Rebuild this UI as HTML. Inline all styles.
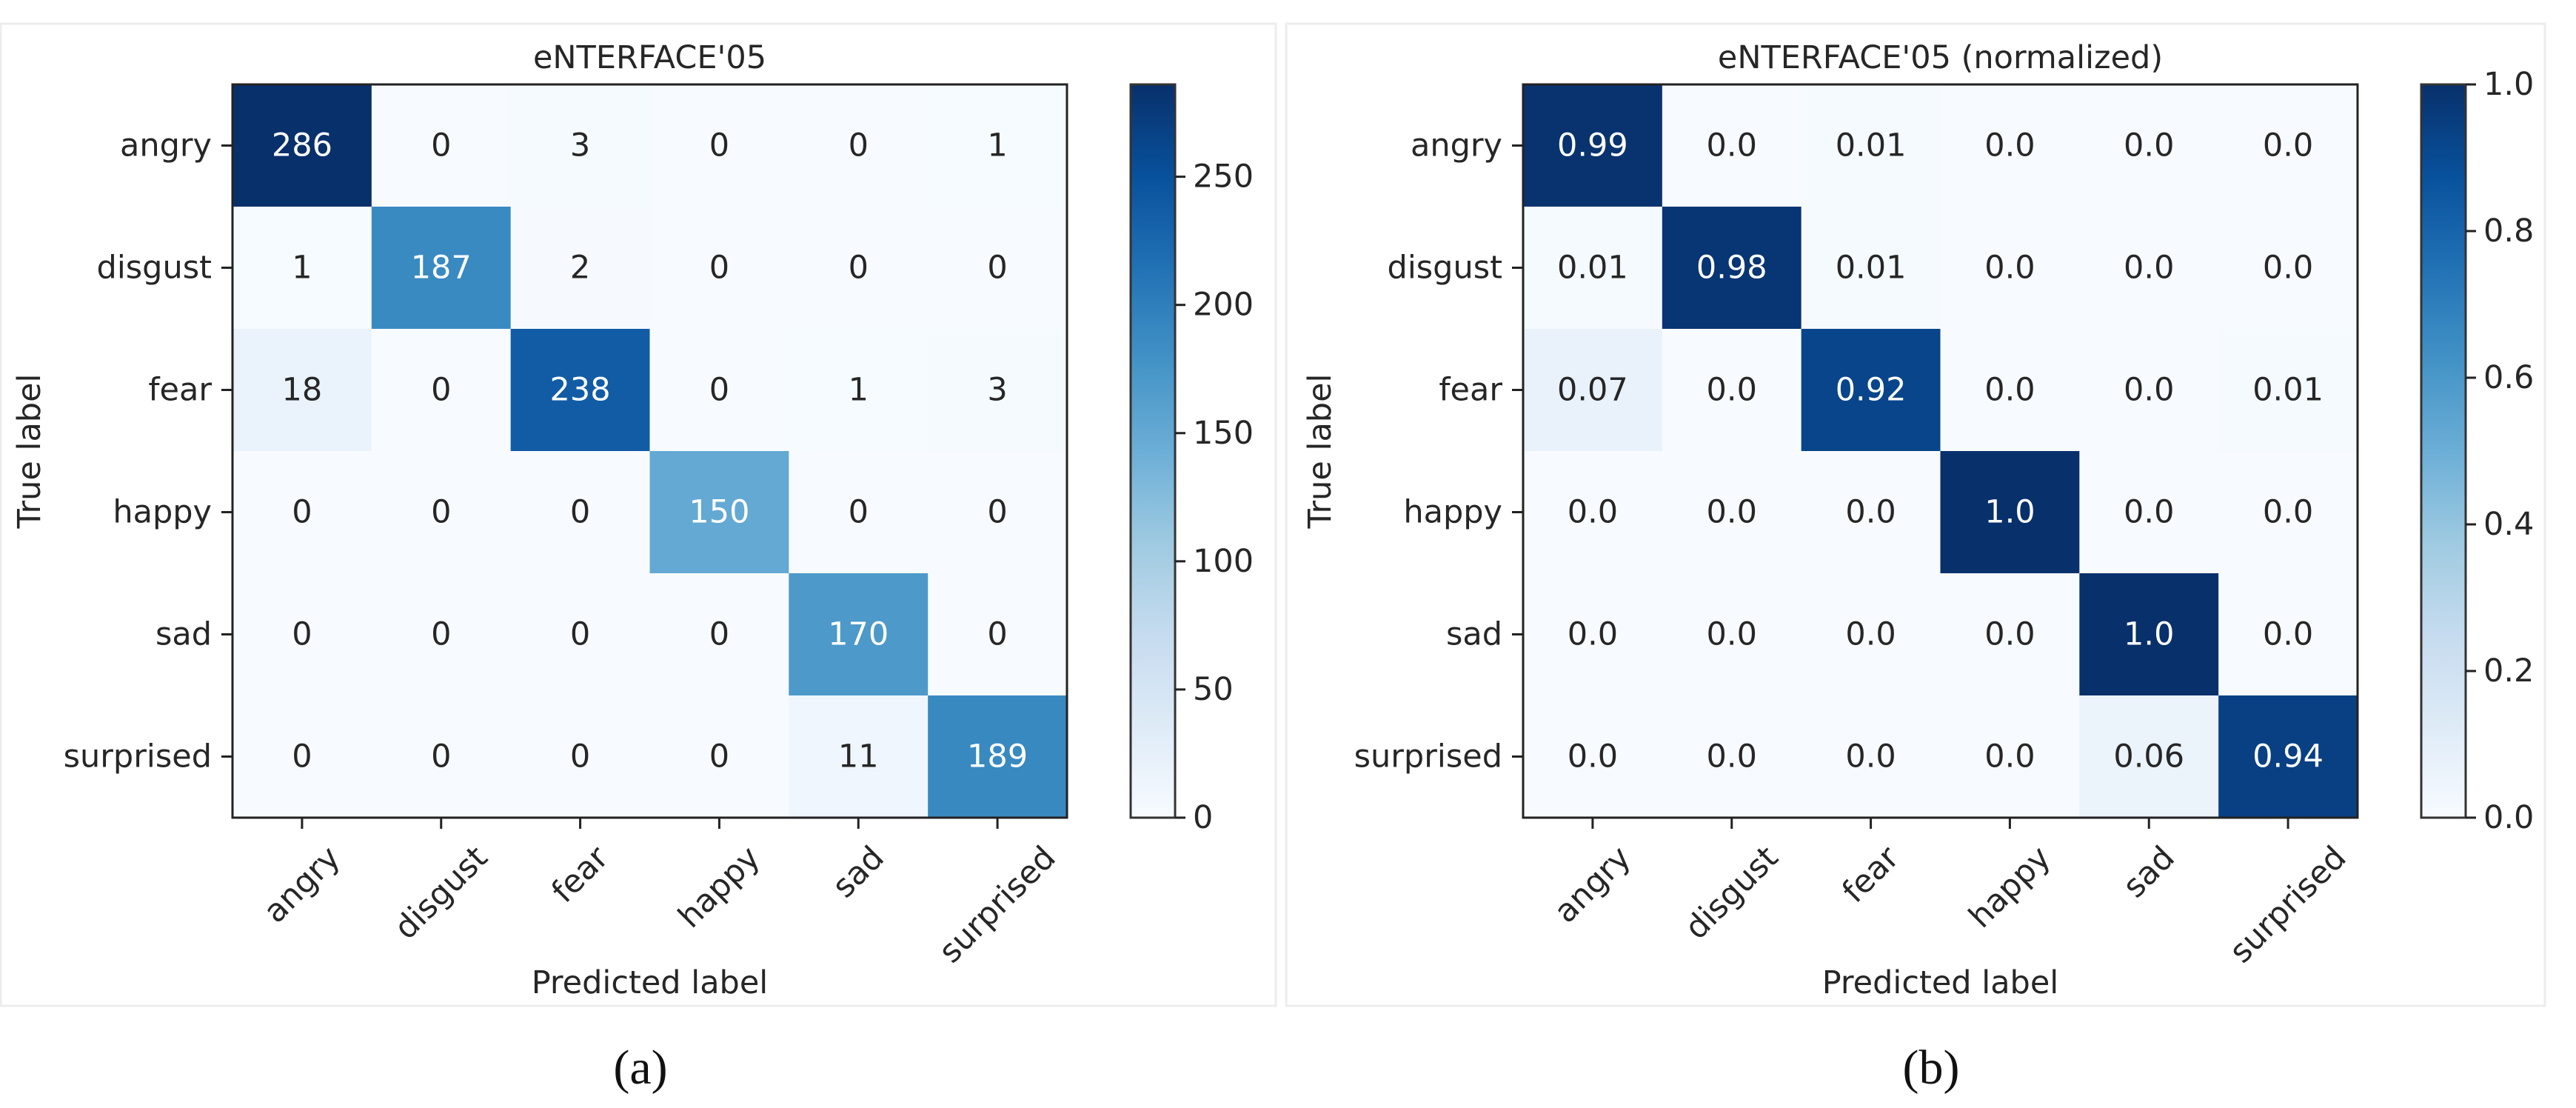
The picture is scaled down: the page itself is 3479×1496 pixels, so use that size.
<!DOCTYPE html>
<html><head><meta charset="utf-8"><style>
html,body{margin:0;padding:0;background:#fff;}
svg{display:block;}
text{font-family:"DejaVu Sans","Liberation Sans",sans-serif;fill:#262626;}
</style></head>
<body>
<svg id="fig" width="3479" height="1496" viewBox="0 0 3479 1496" xmlns="http://www.w3.org/2000/svg">
<defs></defs>
<rect x="1" y="32" width="1722" height="1326" fill="none" stroke="#ececec" stroke-width="3"/>
<rect x="1737" y="32" width="1700" height="1326" fill="none" stroke="#ececec" stroke-width="3"/>
<text x="865" y="1463" text-anchor="middle" style="font-family:'Liberation Serif',serif;font-size:66px;fill:#111">(a)</text>
<text x="2608" y="1463" text-anchor="middle" style="font-family:'Liberation Serif',serif;font-size:66px;fill:#111">(b)</text>
</svg>
<script>
const categories = ["angry","disgust","fear","happy","sad","surprised"];
const countsA = [
  [286,0,3,0,0,1],
  [1,187,2,0,0,0],
  [18,0,238,0,1,3],
  [0,0,0,150,0,0],
  [0,0,0,0,170,0],
  [0,0,0,0,11,189]
];
const normB = [
  [0.99,0.0,0.01,0.0,0.0,0.0],
  [0.01,0.98,0.01,0.0,0.0,0.0],
  [0.07,0.0,0.92,0.0,0.0,0.01],
  [0.0,0.0,0.0,1.0,0.0,0.0],
  [0.0,0.0,0.0,0.0,1.0,0.0],
  [0.0,0.0,0.0,0.0,0.06,0.94]
];
const labelsA = ["286","0","3","0","0","1","1","187","2","0","0","0","18","0","238","0","1","3","0","0","0","150","0","0","0","0","0","0","170","0","0","0","0","0","11","189"];
const ticksA = [0,50,100,150,200,250];
const ticksB = [0.0,0.2,0.4,0.6,0.8,1.0];
const tickLabelsA = ["0","50","100","150","200","250"];
const tickLabelsB = ["0.0","0.2","0.4","0.6","0.8","1.0"];
const titleA = "eNTERFACE'05";
const titleB = "eNTERFACE'05 (normalized)";

const NS = "http://www.w3.org/2000/svg";
const svg = document.getElementById('fig');
const blues = ["#f7fbff","#deebf7","#c6dbef","#9ecae1","#6baed6","#4292c6","#2171b5","#08519c","#08306b"];
function hex(c){return [parseInt(c.slice(1,3),16),parseInt(c.slice(3,5),16),parseInt(c.slice(5,7),16)];}
function cmap(t){
  t=Math.max(0,Math.min(1,t));
  const p=t*(blues.length-1); const i=Math.min(blues.length-2,Math.floor(p)); const f=p-i;
  const a=hex(blues[i]), b=hex(blues[i+1]);
  return "rgb("+a.map((v,k)=>Math.round(v+(b[k]-v)*f)).join(",")+")";
}
function el(tag, attrs, parent){
  const e=document.createElementNS(NS,tag);
  for(const k in attrs) e.setAttribute(k,attrs[k]);
  (parent||svg).appendChild(e); return e;
}
const FS=43;
function panel(ox, data, vmax, fmt, ticks, tickLabels, title, id){
  const L=314+ox, T=114, W=1127, H=990;
  const cw=W/categories.length, ch=H/categories.length;
  const xAt=j=>L+cw*j, yAt=i=>T+ch*i;
  const g=el('g',{});
  
  
  data.forEach((row,i)=>row.forEach((v,j)=>{
    const r=el('rect',{x:xAt(j),y:yAt(i),width:cw+0.5,height:ch+0.5,fill:cmap(v/vmax)},g);
    
    
    const t=el('text',{x:xAt(j)+cw/2,y:yAt(i)+ch/2,'text-anchor':'middle','dominant-baseline':'central','font-size':FS},g);
    t.textContent=fmt(v,i,j);
    if(v>vmax/2) t.style.fill='#ffffff';
    
    
  }));
  const frame=el('rect',{x:L,y:T,width:W,height:H,fill:'none',stroke:'#222','stroke-width':3});
  
  
  const tt=el('text',{x:L+W/2,y:T-22,'text-anchor':'middle','font-size':FS});
  tt.textContent=title;
  
  
  categories.forEach((c,i)=>{
    const y=yAt(i)+ch/2;
    el('line',{x1:L-15,x2:L,y1:y,y2:y,stroke:'#222','stroke-width':3});
    const t=el('text',{x:L-28,y:y,'text-anchor':'end','dominant-baseline':'central','font-size':FS});
    t.textContent=c;
    
    
    const x=xAt(i)+cw/2;
    el('line',{x1:x,x2:x,y1:T+H,y2:T+H+15,stroke:'#222','stroke-width':3});
    const tx=el('text',{x:0,y:0,'text-anchor':'middle','dominant-baseline':'central','font-size':FS});
    tx.textContent=c;
    const w=tx.getComputedTextLength(); const h=FS*1.1;
    const box=0.7071*(w+h);
    const cy=T+H+30+box/2;
    tx.setAttribute('transform','translate('+x+','+cy+') rotate(-45)');
    
    
  });
  const xl=el('text',{x:L+W/2,y:1341,'text-anchor':'middle','font-size':FS});
  xl.textContent='Predicted label';
  
  
  const yl=el('text',{x:0,y:0,'text-anchor':'middle','font-size':FS,transform:'translate('+(54+ox)+','+(T+H/2)+') rotate(-90)'});
  yl.textContent='True label';
  
  
  const CX=1527+ox, CW=60;
  const gid='grad'+id;
  const defs=svg.querySelector('defs');
  const lg=el('linearGradient',{id:gid,x1:0,y1:1,x2:0,y2:0},defs);
  for(let k=0;k<=16;k++) el('stop',{offset:k/16,'stop-color':cmap(k/16)},lg);
  const cb=el('rect',{x:CX,y:T,width:CW,height:H,fill:'url(#'+gid+')',stroke:'#333','stroke-width':3});
  
  
  const cy=v=>T+H-v/vmax*H;
  ticks.forEach((v,k)=>{
    const y=cy(v);
    el('line',{x1:CX+CW,x2:CX+CW+14,y1:y,y2:y,stroke:'#222','stroke-width':3});
    const t=el('text',{x:CX+CW+24,y:y,'dominant-baseline':'central','font-size':FS});
    t.textContent=tickLabels[k];
    
    
  });
}
const maxA=Math.max(...countsA.flat());
panel(0, countsA, maxA, (v,i,j)=>labelsA[i*6+j], ticksA, tickLabelsA, titleA, 'a');
panel(1743, normB, 1.0, v=>String(v===Math.round(v)?v.toFixed(1):v), ticksB, tickLabelsB, titleB, 'b');
</script>
</body></html>
